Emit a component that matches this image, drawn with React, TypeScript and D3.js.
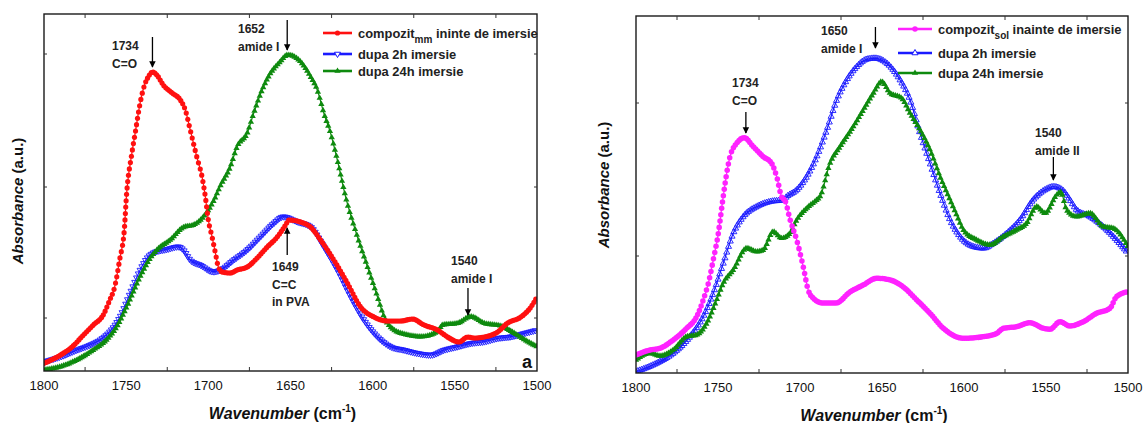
import { useEffect, useRef } from "react"
import * as d3 from "d3"

type Pt = [number, number]

const wavenumberTicks = [1800, 1750, 1700, 1650, 1600, 1550, 1500]
const minorTicks = [1775, 1725, 1675, 1625, 1575, 1525]

// panel a : compozit mm  [wavenumber, absorbance a.u.]
const mmBefore: Pt[] = [
  [1800, 7.7], [1790, 16], [1783, 24], [1776, 36], [1770, 46], [1764, 56], [1760, 71], [1757, 84],
  [1754, 111], [1751, 144], [1750, 171], [1746.5, 218], [1744.5, 238], [1741.5, 268], [1738.4, 288],
  [1736.6, 294], [1734, 299], [1731.3, 296], [1727.4, 286], [1722, 278], [1717, 271], [1714, 261],
  [1711, 241], [1707, 214], [1703.8, 194], [1701.8, 174], [1700, 151], [1697.7, 134], [1695.7, 118],
  [1693.9, 104], [1691.6, 99], [1686.6, 98], [1682.5, 101], [1676.4, 104], [1670.3, 113], [1664.2, 124],
  [1658.1, 134], [1653, 146], [1651, 151], [1643.9, 149], [1637.8, 144], [1631.7, 131], [1623.6, 111],
  [1615.4, 88], [1607.3, 64], [1599.2, 54], [1591, 50], [1582.9, 50], [1575.8, 52], [1568.7, 46],
  [1560.5, 41], [1554.4, 34], [1547.4, 29], [1542.3, 34], [1538.2, 33], [1532.1, 34], [1524, 39],
  [1517.9, 48], [1509.8, 54], [1503.7, 64], [1500, 74],
]
const mm2h: Pt[] = [
  [1800, 9.3], [1790, 14.3], [1780, 21], [1772, 26], [1766, 31], [1760, 39.3], [1753.7, 54.3],
  [1747.6, 77.7], [1741.5, 101], [1737.4, 112.7], [1733.4, 118.3], [1725.2, 121.7], [1718.1, 124.3],
  [1715.1, 121], [1711, 111], [1704.9, 106], [1696.8, 99.3], [1692.7, 101], [1684.6, 111], [1676.4, 121],
  [1668.3, 134.3], [1660.2, 147.7], [1654.4, 154.3], [1645.9, 149.3], [1637.8, 144.3], [1629.7, 124.3],
  [1621.5, 101], [1613.4, 74.3], [1605.3, 51], [1597.1, 34.3], [1589, 24.3], [1580.9, 21], [1572.7, 17.7],
  [1564.6, 16], [1556.5, 21], [1548.4, 24.3], [1540.2, 27.7], [1532.1, 29.3], [1524, 32.7], [1515.9, 34.3],
  [1507.7, 37.7], [1500, 41],
]
const mm24h: Pt[] = [
  [1800, 1], [1790, 4.3], [1780, 11], [1770, 21], [1762, 31], [1755.7, 44.3], [1749.6, 64.3],
  [1741.5, 94.3], [1735.4, 112.7], [1731.3, 121], [1723.2, 131], [1715.1, 143.7], [1709, 146],
  [1702.9, 154.3], [1696.8, 170], [1692.7, 185], [1686.6, 204.3], [1682.5, 224.3], [1676.4, 237.7],
  [1672.4, 257.7], [1667.3, 281], [1662.2, 297.7], [1657.1, 307.7], [1651.6, 316], [1643.9, 309.3],
  [1637.8, 294.3], [1633.7, 281], [1629.7, 257.7], [1625.6, 237.7], [1621.5, 211], [1616.5, 174.3],
  [1609.3, 134.3], [1603.2, 104.3], [1597.1, 74.3], [1593.1, 54.3], [1587, 41], [1578.8, 36],
  [1570.7, 34.3], [1560.5, 39.3], [1557.5, 46], [1548.4, 47.7], [1540.2, 54.3], [1532.1, 47.7],
  [1522, 45], [1513.8, 37.7], [1505.7, 29.3], [1500, 24.3],
]
const absTicksA = [53, 184, 317]

// panel b : compozit sol
const solBefore: Pt[] = [
  [1800, 18], [1791.5, 23], [1785.4, 24.7], [1777.3, 33], [1769.1, 44.7], [1763, 56.3], [1759, 73],
  [1755.9, 89.7], [1752.9, 113], [1749.8, 139.7], [1747.1, 173], [1744.7, 199.7], [1742.7, 216.3],
  [1738.6, 229.7], [1734, 235.3], [1728.5, 226.3], [1722.4, 216.3], [1717.3, 209.7], [1714.2, 196.3],
  [1711.2, 176], [1709, 172], [1706, 153], [1702, 133], [1698, 106], [1695, 83], [1692, 75], [1686, 70],
  [1678, 70], [1669.5, 81], [1661.4, 88], [1653.2, 94.7], [1645, 93], [1637, 86], [1628.8, 73],
  [1620.7, 59.7], [1612.6, 44.7], [1600.4, 34.7], [1588.2, 36.3], [1580, 39.7], [1576, 44.7],
  [1567.9, 46.3], [1559.8, 50.3], [1551.6, 44.7], [1547.6, 43.7], [1541.5, 51.3], [1535.4, 47],
  [1527.3, 51.3], [1519.1, 59.7], [1511, 64.7], [1507, 76.3], [1500, 81.3],
]
const sol2h: Pt[] = [
  [1800, 1.3], [1787.4, 9.7], [1777.3, 19.7], [1767.1, 36.3], [1759, 56.3], [1752.9, 79.7],
  [1746.8, 109.7], [1740.7, 139.7], [1734.6, 156.3], [1726.4, 166.3], [1718.3, 171.3], [1710.2, 173],
  [1708.1, 176.3], [1702, 183], [1695.9, 196.3], [1689.8, 216.3], [1683.7, 243], [1677.6, 273],
  [1671.5, 293], [1665.4, 306.3], [1659.3, 313.7], [1654.3, 314.7], [1647.1, 309.7], [1639, 293],
  [1632.9, 273], [1626.8, 239.7], [1620.7, 209.7], [1614.6, 179.7], [1608.5, 153], [1602.4, 136.3],
  [1594.3, 126.3], [1588.1, 124.7], [1582, 129.7], [1573.9, 139.7], [1565.9, 153], [1557.9, 173],
  [1549.6, 184], [1545.5, 186.3], [1540, 183], [1535.4, 173], [1531.3, 163], [1523.2, 156.3],
  [1515.1, 146.3], [1507, 133], [1500, 119.7],
]
const sol24h: Pt[] = [
  [1800, 13], [1791.5, 19.7], [1785.4, 17], [1777.3, 23], [1769.1, 36.3], [1763, 38], [1756.9, 49.7],
  [1750.8, 73], [1746.8, 89.7], [1740.7, 103], [1732.5, 124.7], [1726.4, 121.3], [1722.4, 123],
  [1716.3, 141.3], [1711.2, 134.7], [1706.1, 139.7], [1702, 153], [1695.9, 164.7], [1689.8, 173],
  [1687.8, 176.3], [1681.7, 209.7], [1675.6, 226.3], [1667.5, 246.3], [1661.4, 263], [1655.3, 279.7],
  [1650.2, 291.3], [1645.1, 279.7], [1638, 274.7], [1632.9, 259.7], [1626.8, 243], [1620.7, 223],
  [1614.6, 196.3], [1608.5, 173], [1604, 156], [1600.4, 143], [1592.3, 133], [1584.1, 128], [1576, 136.3],
  [1567.9, 143], [1561.8, 149.7], [1555.7, 166.3], [1550.6, 159.7], [1543.5, 178], [1541, 181],
  [1537.4, 163], [1531.3, 156.3], [1523.2, 159.7], [1515.1, 146.3], [1509, 144.7], [1500, 126.3],
]
const absTicksB = [117, 270]

const FONT = "Arial, 'Liberation Sans', Helvetica, sans-serif"

interface Series {
  values: Pt[]
  color: string
  marker: "circle" | "triUp" | "triDown"
  open?: boolean
  step: number
  size: number
}

interface Note {
  at: number
  lines: string[]
  tx: number
  ty: number
  y1: number
  y2: number
}

interface LegendItem {
  label: string
  sub?: string
  rest?: string
  y: number
}

interface PanelProps {
  left: number
  right: number
  top: number
  bottom: number
  series: Series[] // legend order
  drawOrder: number[]
  yTicks: number[]
  notes: Note[]
  legend: LegendItem[]
  legendX: number
  legendW: number
  titleX: number
  titleY: number
  tag?: string
}

function symbolPath(s: Series) {
  const type = s.marker === "circle" ? d3.symbolCircle : d3.symbolTriangle
  return d3.symbol().type(type).size(s.size)() ?? ""
}

function Panel(p: PanelProps) {
  const gRef = useRef<SVGGElement>(null)

  const x = d3.scaleLinear().domain([1800, 1500]).range([p.left, p.right])
  const y = d3.scaleLinear().domain([0, 357]).range([p.bottom, p.bottom - 357])

  useEffect(() => {
    const g = d3.select(gRef.current)
    g.selectAll("*").remove()
    const line = d3
      .line<Pt>()
      .x((d) => x(d[0]))
      .y((d) => y(d[1]))
      .curve(d3.curveMonotoneX)
    p.drawOrder.forEach((i) => {
      const s = p.series[i]
      const path = g
        .append("path")
        .attr("d", line(s.values))
        .attr("fill", "none")
        .attr("stroke", s.color)
        .attr("stroke-width", 1.2)
      const node = path.node() as SVGPathElement
      const len = node.getTotalLength()
      const pts: Pt[] = []
      let lastX = -Infinity
      let lastY = 0
      for (let l = 0; l <= len; l += 0.4) {
        const pt = node.getPointAtLength(l)
        // one marker per x step, plus extra ones on very steep flanks
        if (pt.x - lastX >= s.step || Math.abs(pt.y - lastY) >= 6) {
          pts.push([pt.x, pt.y])
          lastX = pt.x
          lastY = pt.y
        }
      }
      const d = symbolPath(s)
      g.append("g")
        .selectAll("path")
        .data(pts)
        .join("path")
        .attr("d", d)
        .attr(
          "transform",
          (q) => `translate(${q[0]},${q[1]})${s.marker === "triDown" ? " rotate(180)" : ""}`
        )
        .attr("fill", s.open ? "none" : s.color)
        .attr("stroke", s.open ? s.color : "none")
        .attr("stroke-width", 0.9)
    })
  }, [])

  const h = p.bottom - p.top
  return (
    <g fontFamily={FONT}>
      <defs>
        <clipPath id={`clip${p.left}`}>
          <rect x={p.left} y={p.top} width={p.right - p.left} height={h} />
        </clipPath>
      </defs>
      <g ref={gRef} clipPath={`url(#clip${p.left})`} />
      <rect x={p.left} y={p.top} width={p.right - p.left} height={h} fill="none" stroke="#1a1a1a" strokeWidth={1.4} />

      {minorTicks.map((t) => (
        <g key={t}>
          <line x1={x(t)} x2={x(t)} y1={p.bottom} y2={p.bottom - 4} stroke="#333" />
          <line x1={x(t)} x2={x(t)} y1={p.top} y2={p.top + 4} stroke="#333" />
        </g>
      ))}
      {p.yTicks.map((t) => (
        <g key={t}>
          <line x1={p.left} x2={p.left + 3} y1={y(t)} y2={y(t)} stroke="#333" />
          <line x1={p.right} x2={p.right - 3} y1={y(t)} y2={y(t)} stroke="#333" />
        </g>
      ))}
      {wavenumberTicks.map((t) => (
        <text key={t} x={x(t)} y={p.bottom + 19} textAnchor="middle" fontSize={13} fill="#111">
          {t}
        </text>
      ))}

      <text x={(p.left + p.right) / 2 - 8} y={p.bottom + 48} textAnchor="middle" fontSize={16} fontWeight="bold" fill="#111">
        <tspan fontStyle="italic">Wavenumber</tspan>
        <tspan> (cm</tspan>
        <tspan dy={-7} fontSize={10}>-1</tspan>
        <tspan dy={7}>)</tspan>
      </text>
      <text
        transform={`translate(${p.titleX},${p.titleY}) rotate(-90)`}
        textAnchor="middle"
        fontSize={15}
        fontWeight="bold"
        fill="#111"
      >
        <tspan fontStyle="italic">Absorbance</tspan>
        <tspan> (a.u.)</tspan>
      </text>

      {p.notes.map((n, i) => (
        <g key={i}>
          {n.lines.map((l, j) => (
            <text key={j} x={n.tx} y={n.ty + j * 17.5} fontSize={12} fontWeight="bold" fill="#222">
              {l}
            </text>
          ))}
          <line x1={x(n.at)} x2={x(n.at)} y1={n.y1} y2={n.y2} stroke="#000" strokeWidth={1.3} markerEnd="url(#head)" />
        </g>
      ))}

      {p.legend.map((it, i) => {
        const s = p.series[i]
        const cx = p.legendX + p.legendW / 2
        return (
          <g key={i}>
            <line x1={p.legendX} x2={p.legendX + p.legendW} y1={it.y} y2={it.y} stroke={s.color} strokeWidth={2.6} />
            <path
              d={symbolPath(s)}
              transform={`translate(${cx},${it.y})${s.marker === "triDown" ? " rotate(180)" : ""}`}
              fill={s.open ? "white" : s.color}
              stroke={s.open ? s.color : "none"}
              strokeWidth={1}
            />
            <text x={p.legendX + p.legendW + 6} y={it.y + 4.5} fontSize={12.9} fontWeight="bold" fill="#222">
              {it.label}
              {it.sub && (
                <tspan dy={5} fontSize={10}>
                  {it.sub}
                </tspan>
              )}
              {it.rest && <tspan dy={-5}>{it.rest}</tspan>}
            </text>
          </g>
        )
      })}

      {p.tag && (
        <text x={p.right - 5} y={p.bottom - 3} textAnchor="end" fontSize={18} fontWeight="bold" fill="#111">
          {p.tag}
        </text>
      )}
    </g>
  )
}

export default function App() {
  const red = "#ff1010"
  const blue = "#1a1aff"
  const green = "#0e8a0e"
  const magenta = "#ff22ff"

  return (
    <svg width={1147} height={423} style={{ position: "absolute", left: 0, top: 0, background: "white" }}>
      <defs>
        <marker id="head" viewBox="0 0 10 10" refX={9} refY={5} markerWidth={5} markerHeight={6} orient="auto-start-reverse" markerUnits="strokeWidth">
          <path d="M0,0 L10,5 L0,10 z" fill="#000" />
        </marker>
      </defs>
      <Panel
        left={44}
        right={537}
        top={14}
        bottom={371}
        series={[
          { values: mmBefore, color: red, marker: "circle", step: 1.7, size: 21 },
          { values: mm2h, color: blue, marker: "triDown", open: true, step: 1.7, size: 16 },
          { values: mm24h, color: green, marker: "triUp", step: 1.7, size: 17 },
        ]}
        drawOrder={[1, 2, 0]}
        yTicks={absTicksA}
        notes={[
          { at: 1734, lines: ["1734", "C=O"], tx: 112, ty: 50, y1: 37, y2: 67 },
          { at: 1652, lines: ["1652", "amide I"], tx: 238, ty: 33, y1: 20, y2: 50 },
          { at: 1652, lines: ["1649", "C=C", "in PVA"], tx: 272, ty: 271, y1: 255, y2: 228 },
          { at: 1542, lines: ["1540", "amide I"], tx: 451, ty: 265, y1: 288, y2: 315 },
        ]}
        legend={[
          { label: "compozit", sub: "mm", rest: " ininte de imersie", y: 33 },
          { label: " dupa 2h imersie", y: 54 },
          { label: "dupa 24h imersie", y: 71 },
        ]}
        legendX={323}
        legendW={29}
        titleX={23}
        titleY={201}
        tag="a"
      />
      <Panel
        left={636}
        right={1128}
        top={16}
        bottom={373}
        series={[
          { values: solBefore, color: magenta, marker: "circle", step: 1.7, size: 24 },
          { values: sol2h, color: blue, marker: "triUp", open: true, step: 1.7, size: 16 },
          { values: sol24h, color: green, marker: "triUp", step: 1.7, size: 17 },
        ]}
        drawOrder={[1, 2, 0]}
        yTicks={absTicksB}
        notes={[
          { at: 1733, lines: ["1734", "C=O"], tx: 732, ty: 87, y1: 112, y2: 133 },
          { at: 1654, lines: ["1650", "amide I"], tx: 821, ty: 35, y1: 27, y2: 48 },
          { at: 1545.5, lines: ["1540", "amide II"], tx: 1035, ty: 137, y1: 157, y2: 180 },
        ]}
        legend={[
          { label: "compozit", sub: "sol", rest: " inainte de imersie", y: 29 },
          { label: "dupa 2h imersie", y: 53 },
          { label: "dupa 24h imersie", y: 73 },
        ]}
        legendX={898}
        legendW={34}
        titleX={609}
        titleY={185}
      />
    </svg>
  )
}
